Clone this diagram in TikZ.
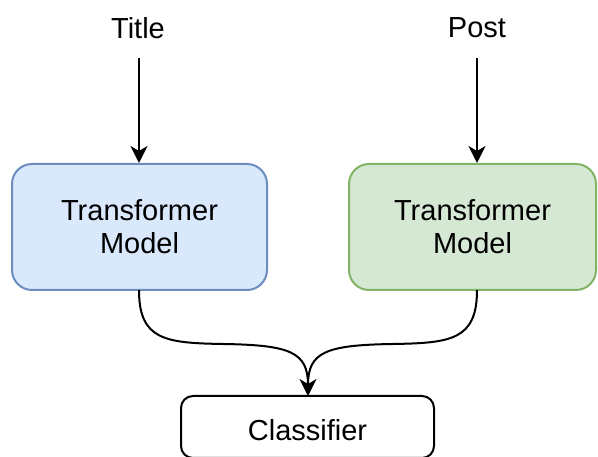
\documentclass[tikz,border=0pt]{standalone}
\usepackage{fontspec}
\setmainfont{Liberation Sans}
\usetikzlibrary{arrows.meta}
\definecolor{blueFill}{HTML}{DAE8FC}
\definecolor{blueLine}{HTML}{6C8EBF}
\definecolor{greenFill}{HTML}{D5E8D4}
\definecolor{greenLine}{HTML}{82B366}
\tikzset{
  box/.style={rectangle, rounded corners=20pt, line width=2pt, inner sep=0pt,
    align=center, font=\fontsize{29}{33}\selectfont},
  lbl/.style={inner sep=0pt, font=\fontsize{29}{33}\selectfont},
  conn/.style={line width=2pt, -{Stealth[length=17pt, width=17pt, inset=5pt]}},
}
\begin{document}
\begin{tikzpicture}[x=1pt, y=-1pt]
  \useasboundingbox (0,0) rectangle (598,457);
  % input labels
  \node[lbl] (title) at (138,28) {Title};
  \node[lbl] (post) at (477,28) {Post};
  \coordinate (titleEnd) at (139,58);
  \coordinate (postEnd) at (477,58);
  % encoders
  \node[box, draw=blueLine, fill=blueFill, minimum width=255pt, minimum height=126pt]
    (encA) at (139.5,227) {Transformer\\Model};
  \node[box, draw=greenLine, fill=greenFill, minimum width=247pt, minimum height=126pt]
    (encB) at (472.5,227) {Transformer\\Model};
  % classifier
  \node[box, draw=black, fill=white, minimum width=253pt, minimum height=62pt, rounded corners=12pt]
    (cls) at (307.5,427) {};
  \node[lbl] (clsText) at (307.5,430) {Classifier};
  % inputs into encoders
  \draw[conn] (titleEnd) -- (encA.north -| titleEnd);
  \draw[conn] (postEnd) -- (encB.north -| postEnd);
  % merging curves
  \coordinate (aOut) at (139,290);
  \coordinate (bOut) at (477,290);
  \coordinate (merge) at (308,396);
  \draw[line width=2pt] (aOut) .. controls (139,340) and (165,343) .. (223,344)
    .. controls (290,345) and (308,352) .. (308,385);
  \draw[line width=2pt] (bOut) .. controls (477,340) and (451,343) .. (393,344)
    .. controls (326,345) and (308,352) .. (308,385);
  \draw[conn] (308,380) -- (merge);
\end{tikzpicture}
\end{document}
